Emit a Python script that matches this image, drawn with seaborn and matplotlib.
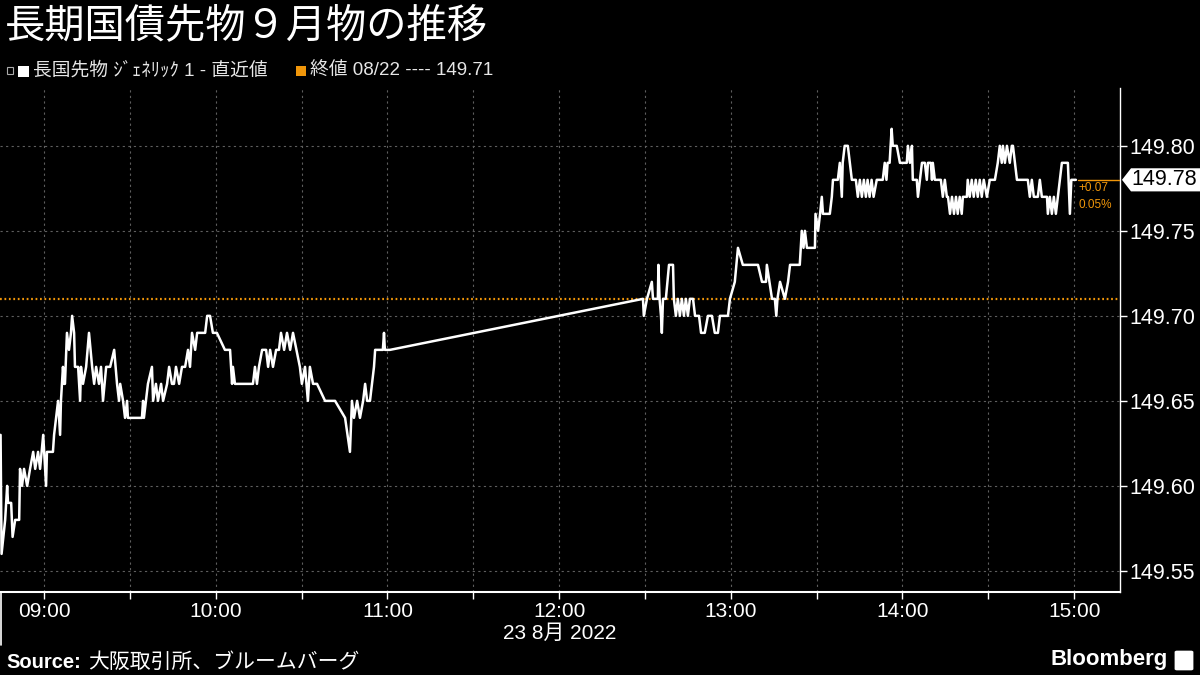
import matplotlib
matplotlib.use("Agg")
import matplotlib.pyplot as plt
import matplotlib.dates as mdates
import matplotlib.transforms as mtransforms
from matplotlib.patches import Rectangle, Polygon, FancyBboxPatch
from matplotlib.lines import Line2D
import numpy as np
import pandas as pd
import seaborn as sns

# ── data: JGB Sep future, 23 Aug 2022 (minutes from 09:00, price) ──
morning_min = [
    -15.2, -14.85, -13.6, -12.9, -12.6, -11.5, -11.0, -10.1, -8.7, -8.4,
    -7.7, -7.0, -5.9, -4.9, -3.8, -3.1, -2.1, -1.4, -0.3, 0.7,
    1.0, 3.1, 3.5, 4.2, 4.9, 5.6, 5.9, 6.6, 7.0, 7.3,
    8.0, 8.7, 9.4, 9.8, 10.5, 10.8, 11.9, 12.6, 12.9, 13.6,
    14.7, 15.7, 16.8, 17.5, 18.2, 19.2, 19.9, 20.6, 21.7, 23.1,
    24.5, 25.5, 26.2,
    26.6, 27.6, 28.3, 29.0, 29.3, 34.2, 34.6, 34.9, 35.6, 36.3,
    37.7, 38.1, 39.1, 39.8, 40.9, 41.6, 43.0, 43.7, 44.7, 45.4,
    46.1, 47.2, 48.2, 49.3, 50.3, 51.0, 51.7, 52.8, 53.5, 56.3,
    57.0, 58.0, 59.0, 60.4, 63.2, 65.0, 65.7, 66.0, 66.7,
    68.5, 73.0, 73.7, 74.4, 75.1, 76.2, 77.6, 78.3, 79.0, 80.0,
    81.1, 82.1, 82.8, 83.9, 84.9, 86.0, 87.0, 89.4, 90.1, 91.2,
    92.2, 92.9, 94.0, 95.4, 98.2, 101.7, 105.2, 106.9, 107.6, 108.3,
    109.4, 110.4, 111.5, 112.2, 112.9, 113.9, 115.3, 115.7, 118.4, 118.8,
    119.1, 120.9,
]
morning_px = [
    149.63, 149.56, 149.58, 149.60, 149.59, 149.59, 149.57, 149.58, 149.58, 149.61,
    149.60, 149.61, 149.60, 149.61, 149.62, 149.61, 149.62, 149.61, 149.63, 149.60,
    149.62, 149.62, 149.63, 149.64, 149.65, 149.63, 149.65, 149.67, 149.66, 149.66,
    149.69, 149.68, 149.69, 149.70, 149.69, 149.67, 149.67, 149.65, 149.67, 149.66,
    149.67, 149.69, 149.67, 149.66, 149.67, 149.66, 149.67, 149.65, 149.67, 149.67,
    149.68, 149.66, 149.65,
    149.66, 149.65, 149.64, 149.65, 149.64, 149.64, 149.65, 149.64, 149.65, 149.66,
    149.67, 149.65, 149.66, 149.65, 149.66, 149.65, 149.66, 149.67, 149.66, 149.66,
    149.67, 149.66, 149.67, 149.67, 149.68, 149.67, 149.69, 149.68, 149.69, 149.69,
    149.70, 149.70, 149.69, 149.69, 149.68, 149.68, 149.66, 149.67, 149.66,
    149.66, 149.66, 149.67, 149.66, 149.67, 149.68, 149.68, 149.67, 149.68, 149.67,
    149.68, 149.68, 149.69, 149.68, 149.69, 149.68, 149.69, 149.67, 149.66, 149.67,
    149.65, 149.67, 149.66, 149.66, 149.65, 149.65, 149.64, 149.62, 149.65, 149.64,
    149.65, 149.64, 149.65, 149.66, 149.65, 149.65, 149.67, 149.68, 149.68, 149.69,
    149.68, 149.68,
]
afternoon_min = [
    209.3, 209.6, 210.7, 212.4, 212.8, 214.5, 214.7, 215.1, 215.6, 215.9,
    216.3, 217.3, 218.4, 219.8, 220.1, 220.8, 221.5, 222.2, 222.9, 223.6,
    224.3, 225.0, 225.7, 226.8, 227.5, 228.9, 229.6, 230.9, 232.0, 233.4,
    234.4, 235.5, 236.2, 239.0, 239.7, 241.4, 242.5, 244.2, 249.5, 250.9,
    252.3, 252.6, 254.4, 255.4, 255.9, 256.3, 257.2, 258.9, 260.0, 260.7,
    264.1, 264.8, 265.4, 265.9, 266.6, 269.4, 269.6, 270.5, 271.2, 271.8,
    272.2, 274.6, 275.3, 275.7, 277.4, 278.1, 278.8, 279.1, 279.8, 280.9,
    281.6, 282.3, 283.7, 284.4, 285.1, 285.8, 286.5, 287.2, 287.8, 288.5,
    289.2, 289.9, 291.0, 293.1, 293.8, 294.4, 294.8, 295.5, 296.2, 296.6,
    298.0, 299.1,
    301.5, 301.9, 302.6, 303.3, 303.6, 305.0, 305.4, 306.1, 306.8, 307.8,
    308.5, 308.9, 309.9, 310.3, 310.6, 311.3, 313.4, 314.1, 314.8, 315.5,
    315.9, 316.6, 317.3, 318.0, 318.7, 319.3, 320.0, 320.7, 321.1, 322.5,
    322.8, 323.5, 324.2, 324.9, 325.6, 326.3, 327.0, 327.7, 328.4, 329.5,
    330.5, 332.3, 333.3, 334.0, 334.7, 335.1, 335.8, 336.5, 337.5, 338.2,
    338.6, 339.3, 340.0, 343.8, 344.5, 345.2, 345.9, 347.3, 348.0, 348.7,
    350.5, 350.8, 351.5, 352.2, 352.9, 353.6, 354.3, 355.0, 355.7, 357.8,
    358.5, 359.0, 360.6,
]
afternoon_px = [
    149.71, 149.70, 149.71, 149.72, 149.71, 149.71, 149.73, 149.71, 149.70, 149.69,
    149.71, 149.71, 149.73, 149.73, 149.71, 149.70, 149.71, 149.70, 149.71, 149.70,
    149.71, 149.70, 149.71, 149.71, 149.70, 149.70, 149.69, 149.69, 149.70, 149.70,
    149.69, 149.69, 149.70, 149.70, 149.71, 149.72, 149.74, 149.73, 149.73, 149.72,
    149.72, 149.73, 149.71, 149.71, 149.70, 149.71, 149.72, 149.71, 149.72, 149.73,
    149.73, 149.75, 149.74, 149.75, 149.74, 149.74, 149.76, 149.75, 149.76, 149.77,
    149.76, 149.76, 149.77, 149.78, 149.78, 149.79, 149.77, 149.79, 149.80, 149.80,
    149.79, 149.78, 149.78, 149.77, 149.78, 149.77, 149.78, 149.77, 149.78, 149.77,
    149.78, 149.77, 149.78, 149.78, 149.79, 149.78, 149.79, 149.79, 149.81, 149.80,
    149.80, 149.79,
    149.79, 149.80, 149.79, 149.80, 149.78, 149.78, 149.77, 149.78, 149.79, 149.79,
    149.78, 149.79, 149.79, 149.78, 149.79, 149.78, 149.78, 149.77, 149.78, 149.77,
    149.77, 149.76, 149.77, 149.76, 149.77, 149.76, 149.77, 149.76, 149.77, 149.77,
    149.78, 149.77, 149.78, 149.77, 149.78, 149.77, 149.78, 149.77, 149.78, 149.77,
    149.78, 149.78, 149.79, 149.80, 149.79, 149.80, 149.79, 149.80, 149.79, 149.80,
    149.80, 149.79, 149.78, 149.78, 149.77, 149.78, 149.77, 149.77, 149.78, 149.77,
    149.77, 149.76, 149.77, 149.76, 149.77, 149.76, 149.77, 149.78, 149.79, 149.79,
    149.76, 149.78, 149.78,
]
prev_close = 149.71
y_ticks = [149.55, 149.60, 149.65, 149.70, 149.75, 149.80]

ORANGE = "#f0960a"
GRID = "#5e5e5e"

base = pd.Timestamp("2022-08-23 09:00")
df = pd.DataFrame({
    "minute": morning_min + afternoon_min,
    "price": morning_px + afternoon_px,
})
df["time"] = base + pd.to_timedelta(df["minute"], unit="min")
last = df["price"].iloc[-1]
last_t = df["time"].iloc[-1]

sns.set_theme(style="dark")
plt.rcParams["font.family"] = ["Liberation Sans", "Noto Sans CJK JP", "DejaVu Sans"]
plt.rcParams["axes.unicode_minus"] = False

fig = plt.figure(figsize=(12, 6.75), dpi=100, facecolor="black")
ax = fig.add_axes([0.0, 0.1230, 0.9333, 0.7466])
ax.set_facecolor("black")

t0 = base + pd.Timedelta(minutes=-15.4)
t1 = base + pd.Timedelta(minutes=376)

# grid
ax.xaxis.set_major_locator(mdates.HourLocator())
ax.xaxis.set_minor_locator(mdates.MinuteLocator(byminute=[30]))
ax.xaxis.set_major_formatter(mdates.DateFormatter("%H:%M"))
ax.grid(True, which="both", axis="x", color=GRID, ls=(0, (2, 3)), lw=0.8)
ax.grid(True, which="major", axis="y", color=GRID, ls=(0, (2, 3)), lw=0.8)

# previous close
ax.axhline(prev_close, color=ORANGE, lw=1.6, ls=(0, (0.8, 1.2)), zorder=2)

sns.lineplot(data=df, x="time", y="price", ax=ax, color="white",
             linewidth=1.8, estimator=None, sort=False, zorder=3)

# last value marker line + change
ax.plot([last_t + pd.Timedelta(minutes=0.6), t1], [last, last],
        color=ORANGE, lw=1.0, zorder=3)
chg = last - prev_close
ax.text(last_t + pd.Timedelta(minutes=1.0), last - 0.0048, f"+{chg:.2f}",
        color=ORANGE, fontsize=8.5, va="center", ha="left")
ax.text(last_t + pd.Timedelta(minutes=1.0), last - 0.0148,
        f"{chg / prev_close * 100:.2f}%",
        color=ORANGE, fontsize=8.5, va="center", ha="left")

ax.set_xlim(t0, t1)
ax.set_ylim(149.5376, 149.834)
ax.set_yticks(y_ticks)
ax.yaxis.set_major_formatter(matplotlib.ticker.FormatStrFormatter("%.2f"))

for s in ["top", "left"]:
    ax.spines[s].set_visible(False)
ax.spines["right"].set_color("white")
ax.spines["right"].set_linewidth(1.0)
ax.spines["bottom"].set_color("white")
ax.spines["bottom"].set_linewidth(1.5)

ax.tick_params(axis="x", which="both", direction="out", length=5, width=1,
               color="white", labelcolor="white", labelsize=15, pad=2, bottom=True)
ax.tick_params(axis="y", which="major", direction="out", length=5, width=1,
               color="white", labelcolor="white", labelsize=15.5, pad=2,
               right=True, left=False, labelright=True, labelleft=False)
ax.set_xlabel("23 8月 2022", color="white", fontsize=15, labelpad=2)
ax.set_ylabel("")

# last price tag on the right axis
tr = mtransforms.blended_transform_factory(fig.transFigure, ax.transData)
h = 0.0068
tag = Polygon([(1122 / 1200, last), (1131 / 1200, last + h), (1200 / 1200, last + h),
               (1200 / 1200, last - h), (1131 / 1200, last - h)],
              closed=True, fc="white", ec="none", transform=tr, clip_on=False, zorder=5)
ax.add_patch(tag)
ax.text(1131 / 1200, last, f"{last:.2f}", transform=tr, color="black",
        fontsize=15.5, va="center", ha="left", zorder=6, clip_on=False)

# divider line under the plot on the left
fig.add_artist(Line2D([0.001, 0.001], [0.123, 0.044], color="white", lw=1.2))

# title and legend row
fig.text(5 / 1200, 1 - 27 / 675, "長期国債先物９月物の推移", color="white",
         fontsize=29, va="center", ha="left", family=["Noto Sans CJK JP", "DejaVu Sans"])

fig.add_artist(Rectangle((7 / 1200, 1 - 74 / 675), 6 / 1200, 7 / 675, fill=False,
                         ec="#aaaaaa", lw=0.8))
fig.add_artist(Rectangle((18 / 1200, 1 - 77 / 675), 11 / 1200, 11 / 675,
                         fc="white", ec="none"))
fig.text(33 / 1200, 1 - 71 / 675, "長国先物 ｼﾞｪﾈﾘｯｸ 1 - 直近値", color="#e6e6e6",
         fontsize=13.5, va="center", ha="left")
fig.add_artist(Rectangle((296 / 1200, 1 - 76 / 675), 10 / 1200, 10 / 675,
                         fc=ORANGE, ec="none"))
fig.text(310 / 1200, 1 - 71 / 675, f"終値 08/22 ---- {prev_close:.2f}",
         color="#e6e6e6", fontsize=13.5, va="center", ha="left")

# footer
fig.text(6 / 1200, 1 - 662 / 675, "Source:", color="white", fontsize=14.5,
         fontweight="bold", va="center", ha="left")
fig.text(88 / 1200, 1 - 662 / 675, "大阪取引所、ブルームバーグ", color="white",
         fontsize=15, va="center", ha="left")
fig.text(1168 / 1200, 1 - 660 / 675, "Bloomberg", color="white", fontsize=16,
         fontweight="bold", va="center", ha="right")
fig.add_artist(FancyBboxPatch((1177 / 1200, 1 - 669 / 675), 14 / 1200, 17 / 675,
                              boxstyle="round,pad=0.002", fc="white", ec="none"))

fig.savefig("out.png", dpi=100, facecolor="black")
